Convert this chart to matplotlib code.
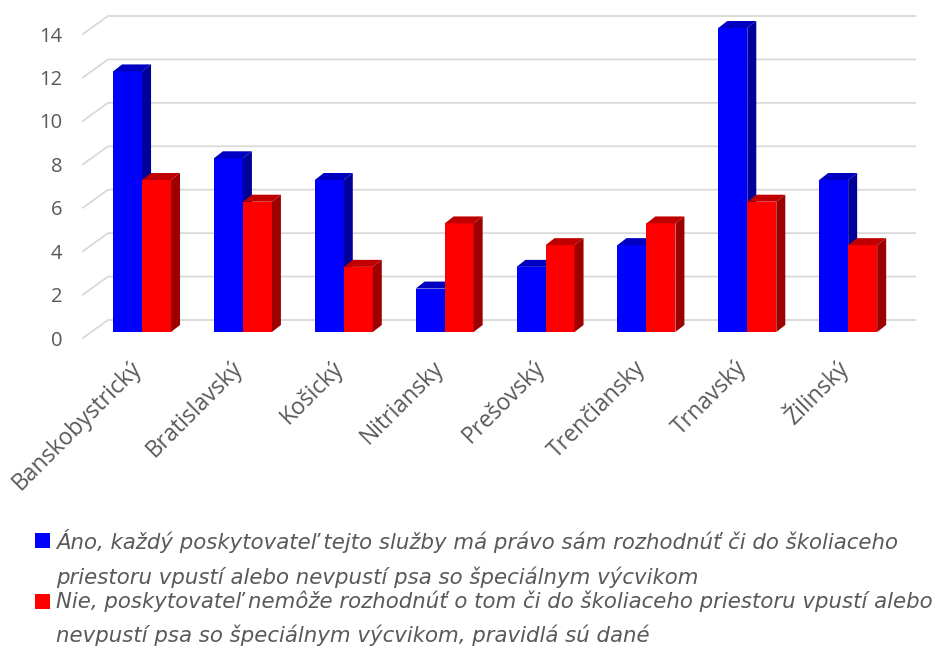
import matplotlib
matplotlib.use("Agg")
import matplotlib.pyplot as plt
from matplotlib.patches import Rectangle

# Data
regions = ["Banskobystrický", "Bratislavský", "Košický", "Nitriansky",
           "Prešovský", "Trenčiansky", "Trnavský", "Žilinský"]
ano = [12, 8, 7, 2, 3, 4, 14, 7]
nie = [7, 6, 3, 5, 4, 5, 6, 4]
yticks = [0, 2, 4, 6, 8, 10, 12, 14]
label_ano = ("Áno, každý poskytovateľ tejto služby má právo sám rozhodnúť či do školiaceho\n"
             "priestoru vpustí alebo nevpustí psa so špeciálnym výcvikom")
label_nie = ("Nie, poskytovateľ nemôže rozhodnúť o tom či do školiaceho priestoru vpustí alebo\n"
             "nevpustí psa so špeciálnym výcvikom, pravidlá sú dané")

W, H = 941, 646
TXT = "#595959"
GRID = "#d9d9d9"
FONT = "Open Sans"
BLUE = ("#0000ff", "#0000c0", "#00009a")   # front, top, side
RED = ("#ff0000", "#c00000", "#9c0000")

fig = plt.figure(figsize=(W / 100, H / 100), dpi=100)

# plot area = front edge of the floor, in pixels
x0, x1, yb, yt = 83, 890, 338, 34
ax = fig.add_axes([x0 / W, (H - yb) / H, (x1 - x0) / W, (yb - yt) / H])
ax.set_xlim(-0.5, len(regions) - 0.5)
ax.set_ylim(0, 14)
for s in ax.spines.values():
    s.set_visible(False)
ax.set_xticks([])
ax.set_yticks(yticks)
ax.set_yticklabels([str(v) for v in yticks], fontsize=14.5, color=TXT, family=FONT)
ax.tick_params(axis="y", length=0, pad=15)

# pixel -> data unit conversions
pxx = len(regions) / (x1 - x0)
pxy = 14 / (yb - yt)

# back wall and side-wall gridlines
wdx, wdy = 25 * pxx, 18 * pxy
for v in yticks:
    ax.plot([-0.5, -0.5 + wdx, len(regions) - 0.5 + wdx],
            [v, v + wdy, v + wdy], color=GRID, lw=1.3, zorder=1, clip_on=False)

# 3d-looking columns
bw = 29 * pxx
fdx, fdy = 8.6 * pxx, 6 * pxy      # front face offset from floor edge
ddx, ddy = 9 * pxx, 7 * pxy        # column depth


def column(xl, h, cols, z):
    xl = xl + fdx
    xr = xl + bw
    b, t = fdy, fdy + h
    ax.add_patch(Rectangle((xl, b), bw, h, facecolor=cols[0], edgecolor="none",
                           zorder=z, clip_on=False))
    ax.fill([xl, xr, xr + ddx, xl + ddx], [t, t, t + ddy, t + ddy],
            color=cols[1], lw=0, zorder=z, clip_on=False)
    ax.fill([xr, xr + ddx, xr + ddx, xr], [b, b + ddy, t + ddy, t],
            color=cols[2], lw=0, zorder=z, clip_on=False)


for i, (a, n) in enumerate(zip(ano, nie)):
    column(i - bw, a, BLUE, 3 + 2 * i)
    column(i, n, RED, 4 + 2 * i)
    ax.text(i + fdx - 4 * pxx, -1.22, regions[i], rotation=45, rotation_mode="anchor",
            ha="right", va="center", fontsize=16.5, color=TXT, family=FONT)

# legend drawn by hand so the marker sits on the first line
for (lab, col, ytop) in [(label_ano, BLUE[0], 533), (label_nie, RED[0], 594)]:
    fig.patches.append(Rectangle((35 / W, 1 - (ytop + 15) / H), 15 / W, 15 / H,
                                 facecolor=col, edgecolor="none",
                                 transform=fig.transFigure, figure=fig))
    fig.text(56 / W, 1 - (ytop - 4) / H, lab, ha="left", va="top",
             fontsize=15.3, style="italic", color=TXT, family="DejaVu Sans",
             linespacing=1.75)

fig.savefig("out.png", dpi=100)
